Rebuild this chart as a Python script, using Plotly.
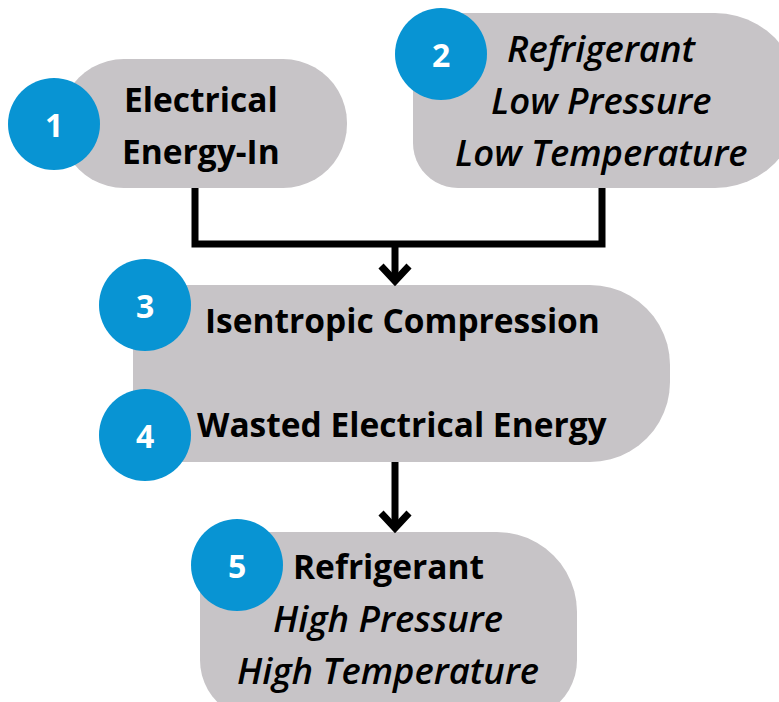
import plotly.graph_objects as go
import math

# ---- content ----
box_lines = [
    ["<b>Electrical</b>", "<b>Energy-In</b>"],
    ["<i>Refrigerant</i>", "<i>Low Pressure</i>", "<i>Low Temperature</i>"],
    ["<b>Isentropic Compression</b>"],
    ["<b>Wasted Electrical Energy</b>"],
    ["<b>Refrigerant</b>", "<i>High Pressure</i>", "<i>High Temperature</i>"],
]
step_numbers = ["1", "2", "3", "4", "5"]

# ---- geometry (pixel space, y downward) ----
boxes = [
    (60, 59, 347, 188, (64, 64, 64, 64)),
    (413, 13, 800, 188, (40, 85, 85, 45)),
    (133, 285, 670, 462, (20, 80, 80, 30)),
    (200, 532, 577, 720, (40, 80, 60, 60)),
]
circles = [(54, 124), (441, 54), (145, 305), (145, 435), (237, 565)]
circle_r = 46
text_anchor = [(201, 125), (601, 100), (402, 320), (402, 424), (388, 618)]
line_gap = 52

BOX = "#C7C4C7"
BLUE = "#0894D3"
FONT = "Open Sans"

def rr_path(x0, y0, x1, y1, r, n=12):
    tl, tr, br, bl = r
    pts = []
    def arc(cx, cy, rad, a0, a1):
        for i in range(n + 1):
            a = math.radians(a0 + (a1 - a0) * i / n)
            pts.append((cx + rad * math.cos(a), cy + rad * math.sin(a)))
    arc(x0 + tl, y0 + tl, tl, 180, 270)
    arc(x1 - tr, y0 + tr, tr, 270, 360)
    arc(x1 - br, y1 - br, br, 0, 90)
    arc(x0 + bl, y1 - bl, bl, 90, 180)
    return "M " + " L ".join(f"{x:.1f},{y:.1f}" for x, y in pts) + " Z"

fig = go.Figure()
shapes = []
for (x0, y0, x1, y1, r) in boxes:
    shapes.append(dict(type="path", path=rr_path(x0, y0, x1, y1, r),
                       fillcolor=BOX, line=dict(width=0), layer="below"))

LW = 7
blk = dict(color="black", width=LW)
connector_paths = [
    "M 195,188 L 195,244 L 602,244 L 602,188",
    "M 395,244 L 395,281",
    "M 381,266 L 395,281 L 409,266",
    "M 395,462 L 395,528",
    "M 381,513 L 395,528 L 409,513",
]
for p in connector_paths:
    shapes.append(dict(type="path", path=p, line=blk, layer="below"))

for (cx, cy) in circles:
    shapes.append(dict(type="circle", x0=cx - circle_r, x1=cx + circle_r,
                       y0=cy - circle_r, y1=cy + circle_r,
                       fillcolor=BLUE, line=dict(width=0), layer="above"))

annotations = []
for lines, (ax, ay) in zip(box_lines, text_anchor):
    n = len(lines)
    for i, t in enumerate(lines):
        y = ay + (i - (n - 1) / 2) * line_gap
        italic = t.startswith("<i>")
        font = dict(family=FONT, size=36.5 if italic else 33.5, color="black")
        if italic:
            font["weight"] = 600
        annotations.append(dict(x=ax, y=y, text=t, showarrow=False, font=font,
                                xanchor="center", yanchor="middle"))
for num, (cx, cy) in zip(step_numbers, circles):
    annotations.append(dict(x=cx, y=cy, text=f"<b>{num}</b>", showarrow=False,
                            font=dict(family=FONT, size=32, color="white"),
                            xanchor="center", yanchor="middle"))

fig.update_layout(
    width=779, height=702,
    margin=dict(l=0, r=0, t=0, b=0),
    paper_bgcolor="white", plot_bgcolor="white",
    xaxis=dict(range=[0, 779], visible=False, fixedrange=True),
    yaxis=dict(range=[702, 0], visible=False, fixedrange=True),
    shapes=shapes, annotations=annotations, showlegend=False,
)
fig.write_html("out.html", post_script="document.body.style.margin='0';",
               config={"displayModeBar": False})
